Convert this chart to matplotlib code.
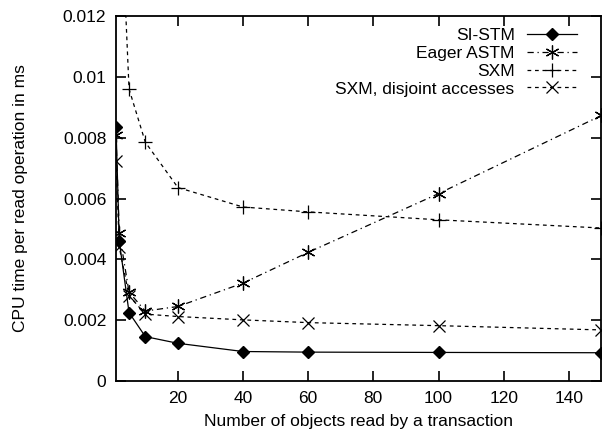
import numpy as np
import matplotlib
matplotlib.use("Agg")
from matplotlib import pyplot as plt

plt.rcParams['font.family'] = ['Liberation Sans', 'DejaVu Sans']

# objects read per transaction
x = [1, 2, 5, 10, 20, 40, 60, 100, 150]

si_stm = [0.00835, 0.00460, 0.00225, 0.00146, 0.00124, 0.00097, 0.00095, 0.00094, 0.00093]
eager_astm = [0.0081, 0.00488, 0.00292, 0.00230, 0.00245, 0.00322, 0.00423, 0.00616, 0.00873]
sxm = [0.030, 0.017, 0.0096, 0.00785, 0.00636, 0.00572, 0.00556, 0.00530, 0.00503]
sxm_disjoint = [0.00723, 0.00440, 0.00280, 0.00220, 0.00212, 0.00201, 0.00192, 0.00182, 0.00168]

xticks = [20, 40, 60, 80, 100, 120, 140]
yticks = [0, 0.002, 0.004, 0.006, 0.008, 0.01, 0.012]
ytick_labels = ["0", "0.002", "0.004", "0.006", "0.008", "0.01", "0.012"]

fs = 12.5

fig = plt.figure(figsize=(6.09, 4.32), dpi=100)
ax = fig.add_axes([0.1905, 0.118, 0.797, 0.845])

lw = 0.9
ax.plot(x, si_stm, color="black", lw=lw, marker="D", markersize=6,
        label="SI-STM")
ax.plot(x, eager_astm, color="black", lw=lw, linestyle=(0, (5, 3, 1, 3)),
        marker=(6, 2, 0), markersize=10, markeredgewidth=0.9, label="Eager ASTM")
ax.plot(x, sxm, color="black", lw=lw, linestyle=(0, (3, 3)),
        marker="+", markersize=10, markeredgewidth=0.9, label="SXM")
ax.plot(x, sxm_disjoint, color="black", lw=lw, linestyle=(0, (3, 3)),
        marker="x", markersize=9, markeredgewidth=0.9,
        label="SXM, disjoint accesses")

ax.set_xlim(1, 150)
ax.set_ylim(0, 0.012)
ax.set_xticks(xticks)
ax.set_yticks(yticks)
ax.set_yticklabels(ytick_labels)
ax.tick_params(direction="in", length=7, width=1.2, top=True, right=True,
               labelsize=fs, pad=7)
for s in ax.spines.values():
    s.set_linewidth(1.3)

ax.set_xlabel("Number of objects read by a transaction", fontsize=fs, labelpad=6)
ax.set_ylabel("CPU time per read operation in ms", fontsize=fs, labelpad=25)

ax.legend(loc="upper right", frameon=False, markerfirst=False, fontsize=fs,
          handlelength=2.9, handletextpad=0.7, labelspacing=0.15,
          borderaxespad=0.3, bbox_to_anchor=(0.975, 1.0))

fig.savefig("out.png", dpi=100)
